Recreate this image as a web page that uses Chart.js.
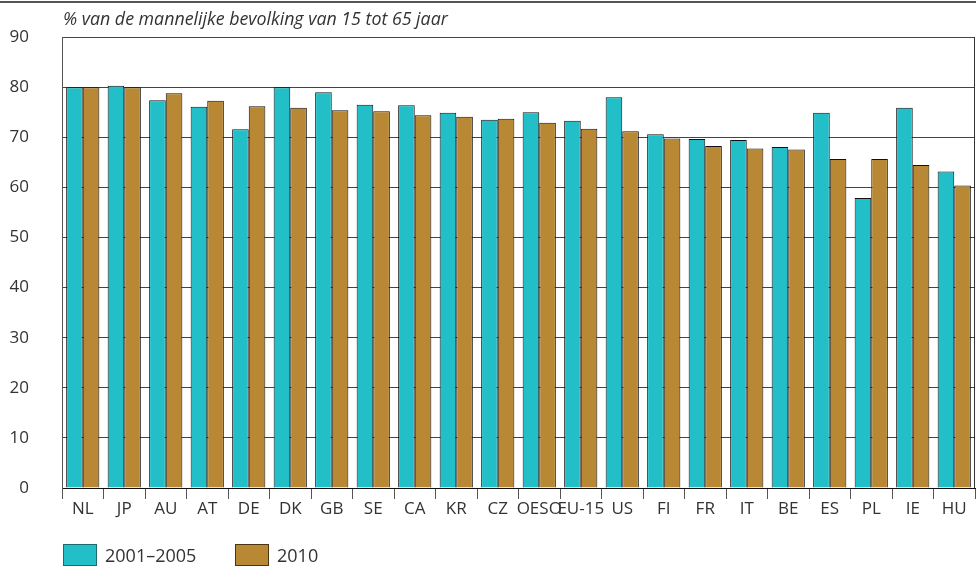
<!DOCTYPE html>
<html>
<head>
<meta charset="utf-8">
<script src="https://cdn.jsdelivr.net/npm/chart.js@4"></script>
<style>
  html, body { margin: 0; padding: 0; background: #fff; overflow: hidden; }
  #wrap { position: relative; width: 976px; height: 568px; overflow: hidden; font-family: "Open Sans", sans-serif; color: #333; }
  #topline { position: absolute; left: 0; top: 1px; width: 976px; height: 2px; background: #555; }
  #title { position: absolute; left: 63px; top: 6px; font-size: 17.8px; font-style: italic; color: #333; }
  #chart { position: absolute; left: 0; top: -6px; }
  .legend { position: absolute; top: 543px; display: flex; align-items: center; font-size: 18px; }
  .legend span.box { display: inline-block; width: 32px; height: 20px; margin-right: 8px; border: 1px solid; }
</style>
</head>
<body>
<div id="wrap">
  <canvas id="chart" width="976" height="574"></canvas>
  <div id="topline"></div>
  <div id="title">% van de mannelijke bevolking van 15 tot 65 jaar</div>
  <div class="legend" style="left:63px"><span class="box" style="background:#22BFC8;border-color:#1a6b70"></span>2001–2005</div>
  <div class="legend" style="left:235px"><span class="box" style="background:#B98835;border-color:#4a3512"></span>2010</div>
</div>
<script>
  const countries = ['NL','JP','AU','AT','DE','DK','GB','SE','CA','KR','CZ','OESO','EU-15','US','FI','FR','IT','BE','ES','PL','IE','HU'];
  const period2001_2005 = [80.0, 80.3, 77.4, 76.1, 71.6, 80.0, 79.0, 76.5, 76.4, 74.9, 73.5, 75.0, 73.3, 78.0, 70.6, 69.7, 69.5, 68.1, 74.9, 57.9, 75.9, 63.2];
  const year2010 = [80.0, 80.0, 78.8, 77.3, 76.2, 75.9, 75.4, 75.2, 74.4, 74.1, 73.7, 72.9, 71.7, 71.2, 69.8, 68.3, 67.8, 67.6, 65.7, 65.7, 64.5, 60.4];
  const yTicks = [0, 10, 20, 30, 40, 50, 60, 70, 80, 90];

  const TEAL = '#22BFC8';
  const BROWN = '#B98835';
  const FONT = '"Open Sans", sans-serif';

  // right edge of the plot frame
  const frameRight = {
    id: 'frameRight',
    afterDraw(chart) {
      const a = chart.chartArea;
      const ctx = chart.ctx;
      ctx.save();
      ctx.strokeStyle = '#333';
      ctx.lineWidth = 1;
      ctx.beginPath();
      ctx.moveTo(Math.round(a.right) - 0.5, a.top);
      ctx.lineTo(Math.round(a.right) - 0.5, a.bottom);
      ctx.stroke();
      ctx.restore();
    }
  };

  new Chart(document.getElementById('chart'), {
    type: 'bar',
    data: {
      labels: countries,
      datasets: [
        { label: '2001–2005', data: period2001_2005, backgroundColor: TEAL, borderColor: '#111', borderWidth: 1 },
        { label: '2010', data: year2010, backgroundColor: BROWN, borderColor: '#111', borderWidth: 1 }
      ]
    },
    options: {
      responsive: false,
      animation: false,
      layout: { padding: { top: 31, right: 1, left: 0, bottom: 0 } },
      datasets: { bar: { categoryPercentage: 0.8, barPercentage: 1.0 } },
      plugins: {
        legend: { display: false },
        tooltip: { enabled: false }
      },
      scales: {
        x: {
          afterFit: (s) => { s.height = 80; },
          grid: { offset: true, drawOnChartArea: false, drawTicks: true, tickLength: 11, color: '#555' },
          border: { color: '#111', width: 1 },
          ticks: { color: '#333', font: { family: FONT, size: 17 }, padding: 0, maxRotation: 0, autoSkip: false }
        },
        y: {
          min: 0,
          max: 90,
          afterFit: (s) => { s.width = 62; },
          afterBuildTicks: (s) => { s.ticks = yTicks.map(v => ({ value: v })); },
          grid: { drawTicks: false, color: '#444', lineWidth: 1 },
          border: { color: '#555', width: 1 },
          ticks: { color: '#333', font: { family: FONT, size: 17 }, padding: 33 }
        }
      }
    },
    plugins: [frameRight]
  });
</script>
</body>
</html>
